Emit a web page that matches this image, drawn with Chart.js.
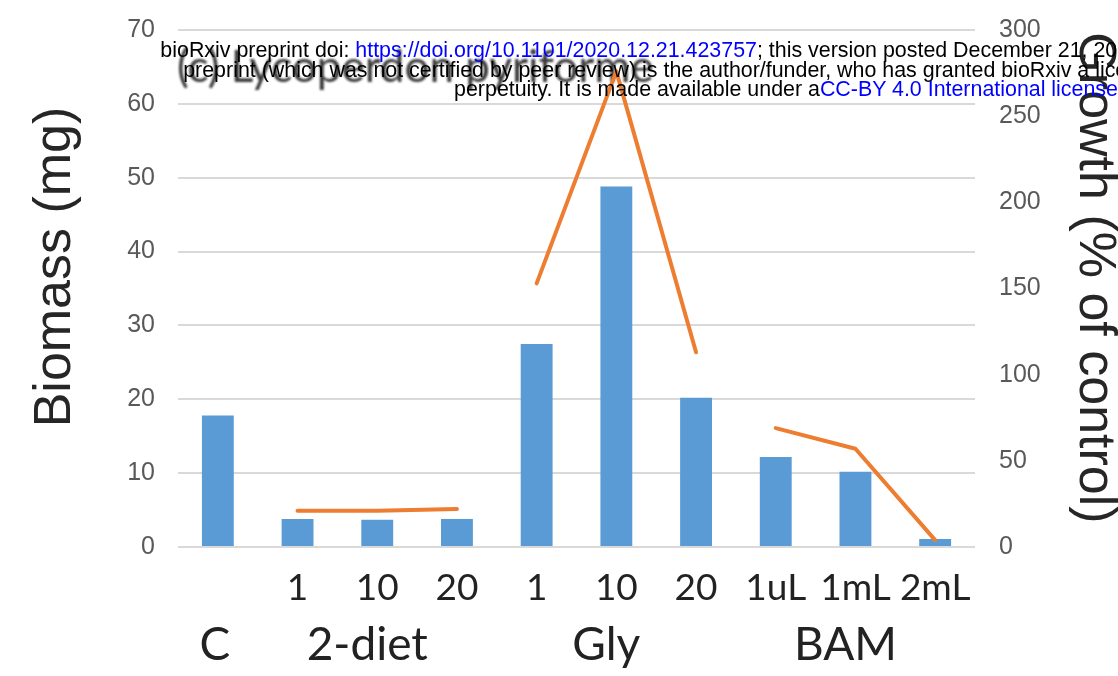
<!DOCTYPE html>
<html>
<head>
<meta charset="utf-8">
<script src="https://cdn.jsdelivr.net/npm/chart.js@4.4.0/dist/chart.umd.min.js"></script>
<style>
  html, body { margin: 0; padding: 0; background: #fff; overflow: hidden; }
  #wrap { position: relative; width: 1118px; height: 676px; overflow: hidden; }
  #header {
    position: absolute; top: 41px; left: 0; width: 1578px;
    text-align: center; white-space: nowrap;
    font-family: "Liberation Sans", Arial, sans-serif; font-size: 21.4px; line-height: 19.5px; color: #000;
  }
  #header span.link { color: #0000ff; }
</style>
</head>
<body>
<div id="wrap">
  <canvas id="chart" width="1118" height="676"></canvas>
  <div id="header">
    bioRxiv preprint doi: <span class="link">https://doi.org/10.1101/2020.12.21.423757</span>; this version posted December 21, 2020. The copyright holder for this<br>
    preprint (which was not certified by peer review) is the author/funder, who has granted bioRxiv a license to display the preprint in<br>
    perpetuity. It is made available under a<span class="link">CC-BY 4.0 International license</span>.
  </div>
</div>
<script>
// categories along the x axis (C has no sub label)
const tickLabels = ['', '1', '10', '20', '1', '10', '20', '1uL', '1mL', '2mL'];
const groupNames = ['C', '2-diet', 'Gly', 'BAM'];
const groupAt = [0, 2, 5, 8];

// biomass (mg), left axis
const biomass = [17.8, 3.8, 3.7, 3.8, 27.5, 48.8, 20.2, 12.2, 10.2, 1.1];

// growth (% of control), right axis, one line per treatment group
const growthDiet = [null, 21, 21, 22, null, null, null, null, null, null];
const growthGly = [null, null, null, null, 153, 276, 113, null, null, null];
const growthBam = [null, null, null, null, null, null, null, 69, 57, 4];

const biomassTicks = [0, 10, 20, 30, 40, 50, 60, 70];
const growthTicks = [0, 50, 100, 150, 200, 250, 300];

const chartTitle = '(c) Lycoperdon pyriforme';
const leftTitle = 'Biomass (mg)';
const rightTitle = 'Growth (% of control)';

const ORANGE = '#ED7D31';
const BLUE = '#5B9BD5';

function lineSet(data) {
    return {
        type: 'line',
        data: data,
        yAxisID: 'y1',
        borderColor: ORANGE,
        borderWidth: 4,
        borderCapStyle: 'round',
        borderJoinStyle: 'round',
        pointRadius: 0,
        spanGaps: false,
        tension: 0,
        order: 1
    };
}

// fixed axis box so the plot area sits where the original one does
function fixAxis(width) {
    return s => {
        s.width = width;
        s.paddingTop = 0;
        s.paddingBottom = 0;
    };
}

// title, group names and axis titles drawn on the canvas
const textPlugin = {
    id: 'textPlugin',
    beforeDatasetsDraw(chart) {
        const ctx = chart.ctx;
        ctx.save();
        ctx.filter = 'blur(0.8px)';
        ctx.fillStyle = '#3a3a3a';
        ctx.font = '44px Lato';
        ctx.textAlign = 'left';
        ctx.textBaseline = 'alphabetic';
        ctx.fillText(chartTitle, 177, 82);
        ctx.restore();
    },
    afterDraw(chart) {
        const ctx = chart.ctx;
        const x = chart.scales.x;
        ctx.save();
        ctx.fillStyle = '#222';
        ctx.font = '46px Lato';
        ctx.textAlign = 'center';
        ctx.textBaseline = 'alphabetic';
        groupNames.forEach((g, i) => {
            const shift = i === 0 ? -3 : -10;
            ctx.fillText(g, x.getPixelForValue(groupAt[i]) + shift, 660);
        });

        ctx.font = '52px "Liberation Sans"';
        ctx.fillStyle = '#262626';
        ctx.textBaseline = 'middle';
        ctx.save();
        ctx.translate(56, 267);
        ctx.rotate(-Math.PI / 2);
        ctx.fillText(leftTitle, 0, 0);
        ctx.restore();

        ctx.save();
        ctx.translate(1094, 278);
        ctx.rotate(Math.PI / 2);
        ctx.fillText(rightTitle, 0, 0);
        ctx.restore();
        ctx.restore();
    }
};

new Chart(document.getElementById('chart'), {
    data: {
        labels: tickLabels,
        datasets: [
            lineSet(growthDiet),
            lineSet(growthGly),
            lineSet(growthBam),
            {
                type: 'bar',
                data: biomass,
                yAxisID: 'y',
                backgroundColor: BLUE,
                barPercentage: 0.8,
                categoryPercentage: 0.5,
                order: 2
            }
        ]
    },
    options: {
        responsive: false,
        animation: false,
        devicePixelRatio: 1,
        layout: { padding: { top: 30, left: 0, right: 0, bottom: 0 } },
        plugins: { legend: { display: false }, tooltip: { enabled: false }, title: { display: false } },
        scales: {
            x: {
                grid: { display: false },
                border: { display: false },
                ticks: {
                    font: { family: 'Lato', size: 37 },
                    color: '#222',
                    padding: 11,
                    maxRotation: 0,
                    autoSkip: false
                },
                afterFit: s => { s.height = 129; s.paddingLeft = 0; s.paddingRight = 0; }
            },
            y: {
                position: 'left',
                min: 0,
                max: 70,
                afterBuildTicks: s => { s.ticks = biomassTicks.map(v => ({ value: v })); },
                ticks: {
                    font: { family: 'Liberation Sans', size: 25 },
                    color: '#595959',
                    padding: 23
                },
                grid: { color: '#d9d9d9', lineWidth: 2, drawTicks: false },
                border: { display: false },
                afterFit: fixAxis(178)
            },
            y1: {
                position: 'right',
                min: 0,
                max: 300,
                afterBuildTicks: s => { s.ticks = growthTicks.map(v => ({ value: v })); },
                ticks: {
                    font: { family: 'Liberation Sans', size: 25 },
                    color: '#595959',
                    padding: 24
                },
                grid: { drawOnChartArea: false, drawTicks: false },
                border: { display: false },
                afterFit: fixAxis(143)
            }
        }
    },
    plugins: [textPlugin]
});
</script>
</body>
</html>
